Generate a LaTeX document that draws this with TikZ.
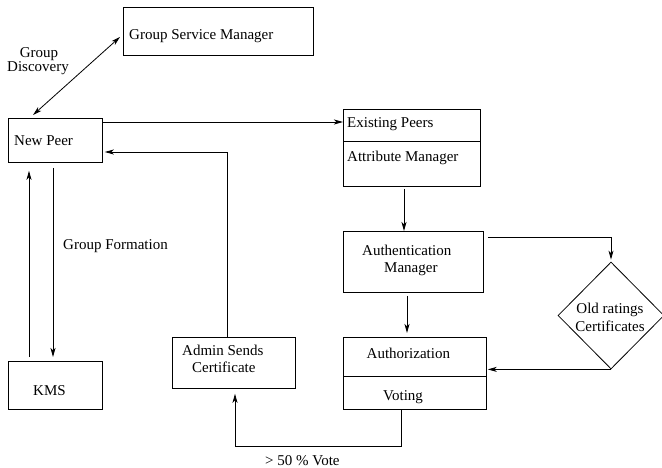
\documentclass[tikz,border=0pt]{standalone}
\usepackage{fontspec}
\setmainfont{Liberation Serif}
\usetikzlibrary{arrows.meta,calc,shapes.geometric}
\tikzset{
  box/.style={draw, line width=0.8pt, inner sep=0pt, anchor=north west},
  txt/.style={inner sep=0pt, anchor=base west, font=\fontsize{15}{17}\selectfont},
  ctxt/.style={inner sep=0pt, anchor=base, font=\fontsize{15}{17}\selectfont},
  conn/.style={line width=0.8pt},
  arr/.style={conn, -{Stealth[length=9pt,width=5pt,inset=2.5pt]}},
  darr/.style={conn, {Stealth[length=9pt,width=5pt,inset=2.5pt]}-{Stealth[length=9pt,width=5pt,inset=2.5pt]}}
}
\begin{document}
\begin{tikzpicture}[x=1pt,y=-1pt]
\useasboundingbox (0,0) rectangle (662,468);
% boxes
\node[box, minimum width=190pt, minimum height=48pt] (gsm) at (123,7) {};
\node[box, minimum width=94pt, minimum height=44pt] (np) at (8,118) {};
\node[box, minimum width=137pt, minimum height=77pt] (ep) at (343,109) {};
\node[box, minimum width=140pt, minimum height=61pt] (am) at (343,231) {};
\node[box, minimum width=123pt, minimum height=51pt] (adm) at (172,337) {};
\node[box, minimum width=143pt, minimum height=72pt] (auz) at (343,337) {};
\node[box, minimum width=94pt, minimum height=48pt] (kms) at (8,361) {};
\node[draw, line width=0.8pt, shape=diamond, inner sep=0pt, minimum width=106pt, minimum height=107pt] (dia) at (611,315.5) {};
% dividers
\draw[conn] ($(ep.north west)+(0,32)$) -- ($(ep.north east)+(0,32)$);
\draw[conn] ($(auz.north west)+(0,39)$) -- ($(auz.north east)+(0,39)$);
% texts
\node[txt] (tgsm) at (129,39.5) {Group Service Manager};
\node[ctxt] (tgd1) at (39,58) {Group};
\node[ctxt] (tgd2) at (38,72) {Discovery};
\node[txt] (tnp) at (14,146) {New Peer};
\node[txt] (tep) at (347,127.5) {Existing Peers};
\node[txt] (tat) at (347,161.5) {Attribute Manager};
\node[txt] (tam1) at (362,255.5) {Authentication};
\node[txt] (tam2) at (384,272.5) {Manager};
\node[txt] (tgf) at (63,249) {Group Formation};
\node[txt] (tkms) at (33,395) {KMS};
\node[txt] (tadm1) at (182,355) {Admin Sends};
\node[txt] (tadm2) at (192,372.5) {Certificate};
\node[txt] (tauz) at (366.5,358) {Authorization};
\node[txt] (tvot) at (383,400.5) {Voting};
\node[ctxt] (tdia1) at (610,313) {Old ratings};
\node[ctxt] (tdia2) at (610,331.5) {Certificates};
\node[txt] (tvote) at (265,465.5) {> 50 \% Vote};
% connectors
\draw[darr] ($(np.north west)+(25,-3)$) -- ($(gsm.north west)+(-3,30)$);
\draw[arr] ($(np.north east)+(0,4)$) -- ($(ep.north west)+(0,13)$);
\draw[arr] ($(adm.north west)+(55,0)$) |- ($(np.north east)+(2,34)$);
\draw[arr] ($(kms.north west)+(21,-4)$) -- ($(np.south west)+(21,8)$);
\draw[arr] ($(np.south west)+(45,5)$) -- ($(kms.north west)+(45,-4)$);
\draw[arr] ($(ep.south west)+(61,2)$) -- ($(am.north west)+(61,0)$);
\draw[arr] ($(am.north east)+(4,6)$) -| ($(dia.north)+(0,-2)$);
\draw[arr] ($(am.south west)+(64,3)$) -- ($(auz.north west)+(64,-4)$);
\draw[arr] (dia.south) -- ($(auz.east |- dia.south)+(1,0)$);
\draw[arr] ($(auz.south west)+(58,0)$) |- ($(adm.south west)+(63,58)$) -- ($(adm.south west)+(63,5)$);
\end{tikzpicture}
\end{document}
